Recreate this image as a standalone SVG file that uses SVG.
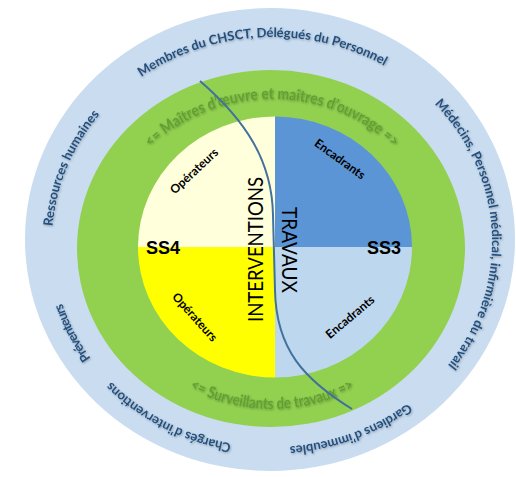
<svg xmlns="http://www.w3.org/2000/svg" width="516" height="477" viewBox="0 0 516 477">
<defs>
<style>
.outer{font-family:Lato,"Open Sans",sans-serif;font-weight:700;font-size:13px;fill:#24507e;filter:url(#sh)}
.ring{font-family:Lato,"Open Sans",sans-serif;font-weight:700;font-size:16px;fill:#62a033;filter:url(#sh)}
.q{font-family:Lato,"Open Sans",sans-serif;font-weight:700;font-size:12px;fill:#000}
.ss{font-family:"Liberation Sans",Arial,sans-serif;font-weight:700;font-size:18px;fill:#000}
.big{font-family:Lato,"Open Sans",sans-serif;font-size:21px;fill:#000}
</style>
<filter id="sh" x="-10%" y="-20%" width="120%" height="140%"><feDropShadow dx="0.8" dy="1" stdDeviation="0.8" flood-color="#000" flood-opacity="0.3"/></filter>
<path id="po" d="M52,242 A220,205 0 1,1 492,242 A220,205 0 1,1 52,242"/>
<path id="pt" d="M107,249 A165,150 0 0,1 437,249"/>
<path id="pb" d="M104,249 A168,160 0 0,0 440,249"/>
</defs>
<rect width="516" height="477" fill="#fff"/>
<g id="outer-ring">
<ellipse cx="270" cy="239.5" rx="245" ry="231.5" fill="#c9dcf0"/>
<text class="outer"><textPath href="#po" startOffset="5.8%" text-anchor="middle">Ressources humaines</textPath></text>
<text class="outer"><textPath href="#po" startOffset="24.2%" text-anchor="middle">Membres du CHSCT, Délégués du Personnel</textPath></text>
<text class="outer"><textPath href="#po" startOffset="49.25%" text-anchor="middle">Médecins, Personnel médical, infirmière du travail</textPath></text>
<text class="outer"><textPath href="#po" startOffset="68.9%" text-anchor="middle">Gardiens d’immeubles</textPath></text>
<text class="outer"><textPath href="#po" startOffset="83.2%" text-anchor="middle">Chargés d’interventions</textPath></text>
<text class="outer"><textPath href="#po" startOffset="93.0%" text-anchor="middle" textLength="62" lengthAdjust="spacing">Préventeurs</textPath></text>
</g>
<g id="green-ring">
<ellipse cx="271" cy="248.5" rx="194" ry="178.5" fill="#92d050"/>
<text class="ring"><textPath href="#pt" startOffset="50%" text-anchor="middle" textLength="268" lengthAdjust="spacingAndGlyphs">&lt;= Maîtres d’œuvre et maîtres d’ouvrage =&gt;</textPath></text>
<text class="ring"><textPath href="#pb" startOffset="50%" text-anchor="middle" textLength="172" lengthAdjust="spacingAndGlyphs">&lt;= Surveillants de travaux =&gt;</textPath></text>
</g>
<g id="ss4-operateurs-haut">
<path d="M275,247 L138,247 A137,130.5 0 0,1 275,116.5 Z" fill="#ffffdc"/>
<text class="q" transform="translate(194,171) rotate(-43)" text-anchor="middle" dy="0.35em">Opérateurs</text>
</g>
<g id="ss3-encadrants-haut">
<path d="M275,247 L275,116.5 A137,130.5 0 0,1 412,247 Z" fill="#5b95d5"/>
<text class="q" transform="translate(340,159) rotate(36)" text-anchor="middle" dy="0.35em">Encadrants</text>
</g>
<g id="ss3-encadrants-bas">
<path d="M275,247 L412,247 A137,130.5 0 0,1 275,377.5 Z" fill="#bdd7ee"/>
<text class="q" transform="translate(350,317) rotate(-40)" text-anchor="middle" dy="0.35em">Encadrants</text>
</g>
<g id="ss4-operateurs-bas">
<path d="M275,247 L275,377.5 A137,130.5 0 0,1 138,247 Z" fill="#ffff00"/>
<text class="q" transform="translate(195,317) rotate(48)" text-anchor="middle" dy="0.35em">Opérateurs</text>
</g>
<g id="connectors">
<path d="M200,81 C245,120 272,160 273,215 L275,290 C276,350 305,380 352,409" fill="none" stroke="#41719c" stroke-width="2"/>
</g>
<g id="labels">
<text class="ss" x="146" y="254">SS4</text>
<text class="ss" x="367" y="254">SS3</text>
<text class="big" transform="translate(263,249.5) rotate(-90)" text-anchor="middle" textLength="145" lengthAdjust="spacingAndGlyphs">INTERVENTIONS</text>
<text class="big" transform="translate(282,250) rotate(90)" text-anchor="middle" textLength="86" lengthAdjust="spacingAndGlyphs">TRAVAUX</text>
</g>
</svg>
